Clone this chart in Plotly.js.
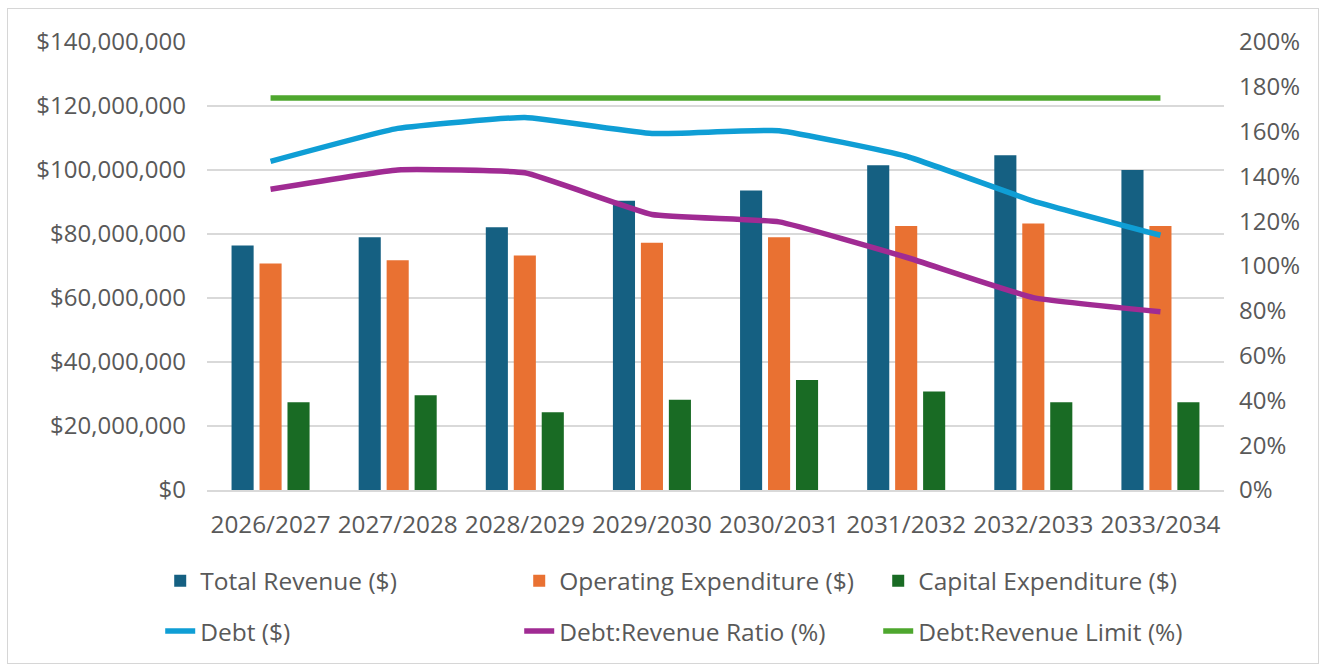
<!DOCTYPE html>
<html>
<head>
<meta charset="utf-8">
<script src="https://cdn.plot.ly/plotly-3.0.1.min.js"></script>
<style>
  html, body { margin: 0; padding: 0; background: #ffffff; }
  #chart { width: 1325px; height: 666px; }
  #frame { position: absolute; left: 7px; top: 8px; width: 1310px; height: 654px;
           border: 1.5px solid #d6d6d6; pointer-events: none; }
</style>
</head>
<body>
<div id="chart"></div>
<div id="frame"></div>
<script>
const categories = ['2026/2027', '2027/2028', '2028/2029', '2029/2030', '2030/2031', '2031/2032', '2032/2033', '2033/2034'];
const totalRevenue = [76.4e6, 79.0e6, 82.1e6, 90.4e6, 93.6e6, 101.5e6, 104.6e6, 100.0e6];
const operatingExpenditure = [70.8e6, 71.8e6, 73.3e6, 77.3e6, 79.0e6, 82.5e6, 83.3e6, 82.5e6];
const capitalExpenditure = [27.4e6, 29.6e6, 24.3e6, 28.2e6, 34.4e6, 30.8e6, 27.4e6, 27.4e6];
const debt = [102.7e6, 113.0e6, 116.4e6, 111.4e6, 112.3e6, 104.3e6, 90.3e6, 79.6e6];
const debtRevenueRatio = [1.343, 1.429, 1.416, 1.230, 1.197, 1.039, 0.859, 0.796];
const debtRevenueLimit = [1.75, 1.75, 1.75, 1.75, 1.75, 1.75, 1.75, 1.75];
const leftTicks = [0, 20e6, 40e6, 60e6, 80e6, 100e6, 120e6, 140e6];
const leftTickText = ['$0', '$20,000,000', '$40,000,000', '$60,000,000', '$80,000,000', '$100,000,000', '$120,000,000', '$140,000,000'];
const rightTicks = [0, 0.2, 0.4, 0.6, 0.8, 1.0, 1.2, 1.4, 1.6, 1.8, 2.0];
const rightTickText = ['0%', '20%', '40%', '60%', '80%', '100%', '120%', '140%', '160%', '180%', '200%'];

const FONT = 'Open Sans, Liberation Sans, sans-serif';
const GREY = '#595959';

const traces = [
  { type: 'bar', name: 'Total Revenue ($)', x: categories, y: totalRevenue,
    marker: { color: '#156082' }, legend: 'legend' },
  { type: 'bar', name: 'Operating Expenditure ($)', x: categories, y: operatingExpenditure,
    marker: { color: '#E97132' }, legend: 'legend' },
  { type: 'bar', name: 'Capital Expenditure ($)', x: categories, y: capitalExpenditure,
    marker: { color: '#196B24' }, legend: 'legend' },
  { type: 'scatter', mode: 'lines', name: 'Debt ($)', x: categories, y: debt,
    line: { color: '#0F9ED5', width: 5.5, shape: 'spline', smoothing: 0.35 }, legend: 'legend2' },
  { type: 'scatter', mode: 'lines', name: 'Debt:Revenue Ratio (%)', x: categories, y: debtRevenueRatio,
    yaxis: 'y2', line: { color: '#A02B93', width: 5.5, shape: 'spline', smoothing: 0.35 }, legend: 'legend2' },
  { type: 'scatter', mode: 'lines', name: 'Debt:Revenue Limit (%)', x: categories, y: debtRevenueLimit,
    yaxis: 'y2', line: { color: '#4EA72E', width: 5.5 }, legend: 'legend2' }
];

const legendCommon = {
  orientation: 'h', xanchor: 'left', yanchor: 'middle',
  entrywidth: 314, entrywidthmode: 'pixels',
  font: { family: FONT, size: 24.5, color: GREY },
  bgcolor: 'rgba(0,0,0,0)', itemclick: false, itemdoubleclick: false
};

const layout = {
  width: 1325, height: 666,
  margin: { l: 207, r: 101, t: 42, b: 176 },
  paper_bgcolor: '#ffffff', plot_bgcolor: '#ffffff',
  barmode: 'group', bargap: 0.34, bargroupgap: 0.21,
  showlegend: true,
  font: { family: FONT, color: GREY },
  xaxis: {
    type: 'category', tickfont: { family: FONT, size: 24.3, color: GREY },
    showline: true, linecolor: '#d9d9d9', linewidth: 1.5,
    ticks: '', ticklabelstandoff: 12, showgrid: false, fixedrange: true
  },
  yaxis: {
    range: [0, 140e6], tickmode: 'array', tickvals: leftTicks, ticktext: leftTickText,
    tickfont: { family: FONT, size: 24, color: GREY },
    showgrid: true, gridcolor: '#d9d9d9', gridwidth: 1.5, zeroline: false,
    ticks: '', ticklabelstandoff: 20, fixedrange: true
  },
  yaxis2: {
    overlaying: 'y', side: 'right', range: [0, 2], tickmode: 'array', tickvals: rightTicks, ticktext: rightTickText,
    tickfont: { family: FONT, size: 24, color: GREY },
    showgrid: false, zeroline: false, ticks: '', ticklabelstandoff: 14, fixedrange: true
  },
  legend: Object.assign({}, legendCommon, { x: -0.046, y: -0.203 }),
  legend2: Object.assign({}, legendCommon, { x: -0.046, y: -0.315 })
};

Plotly.newPlot('chart', traces, layout, { displayModeBar: false, staticPlot: true });
</script>
</body>
</html>
